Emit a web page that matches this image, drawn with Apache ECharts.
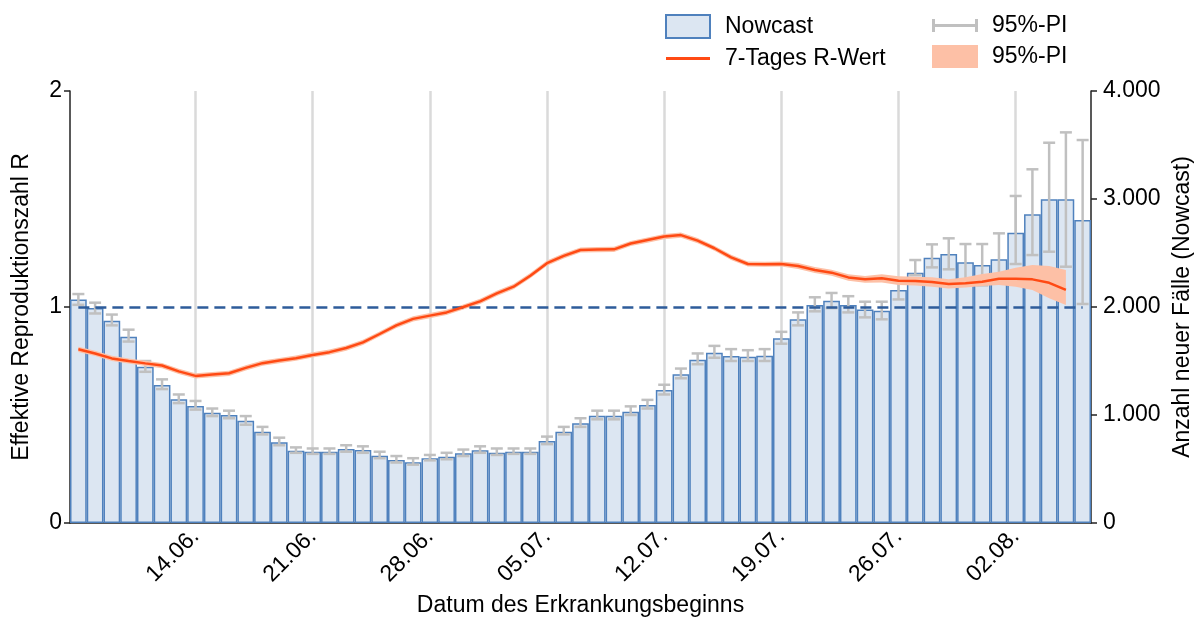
<!DOCTYPE html>
<html>
<head>
<meta charset="utf-8">
<script src="https://cdn.jsdelivr.net/npm/echarts@6/dist/echarts.min.js"></script>
<style>
  html, body { margin: 0; padding: 0; background: #fff; }
  #main { width: 1204px; height: 622px; }
</style>
</head>
<body>
<div id="main"></div>
<script>
// Datum des Erkrankungsbeginns
var days = ['07.06.','08.06.','09.06.','10.06.','11.06.','12.06.','13.06.','14.06.','15.06.','16.06.',
  '17.06.','18.06.','19.06.','20.06.','21.06.','22.06.','23.06.','24.06.','25.06.','26.06.',
  '27.06.','28.06.','29.06.','30.06.','01.07.','02.07.','03.07.','04.07.','05.07.','06.07.',
  '07.07.','08.07.','09.07.','10.07.','11.07.','12.07.','13.07.','14.07.','15.07.','16.07.',
  '17.07.','18.07.','19.07.','20.07.','21.07.','22.07.','23.07.','24.07.','25.07.','26.07.',
  '27.07.','28.07.','29.07.','30.07.','31.07.','01.08.','02.08.','03.08.','04.08.','05.08.',
  '06.08.'];

// Nowcast (Anzahl neuer Fälle)
var nowcast = [2070,1990,1873,1725,1447,1278,1145,1083,1021,1000,
  947,845,747,670,660,660,685,676,623,583,
  562,599,614,645,673,651,660,660,759,845,
  923,994,994,1031,1093,1231,1377,1512,1577,1546,
  1540,1549,1710,1886,2019,2059,2019,1978,1966,2157,
  2318,2457,2491,2414,2389,2441,2688,2858,2997,2997,
  2806];
// 95%-PI Nowcast
var nowcastLow = [2020,1940,1830,1680,1400,1240,1110,1050,990,970,
  910,820,720,650,640,640,660,650,600,560,
  540,580,590,620,650,630,640,640,730,820,
  890,960,960,1000,1060,1190,1340,1470,1530,1500,
  1500,1500,1660,1830,1960,1990,1950,1904,1886,2070,
  2296,2367,2349,2250,2200,2230,2398,2481,2512,2373,
  2028];
var nowcastHigh = [2120,2040,1930,1790,1500,1330,1190,1130,1060,1040,
  990,890,790,700,690,690,720,710,660,620,
  600,630,650,680,710,690,690,690,800,890,
  970,1040,1040,1080,1140,1280,1430,1570,1640,1610,
  1600,1610,1770,1950,2090,2130,2100,2049,2049,2250,
  2435,2580,2636,2583,2583,2682,3028,3275,3521,3617,
  3546];

// 7-Tages R-Wert
var rWert = [0.804,0.785,0.762,0.750,0.739,0.729,0.702,0.681,0.687,0.693,
  0.718,0.740,0.752,0.763,0.778,0.791,0.810,0.836,0.875,0.915,
  0.945,0.960,0.975,1.000,1.026,1.063,1.094,1.145,1.203,1.237,
  1.264,1.266,1.267,1.294,1.310,1.326,1.333,1.307,1.272,1.230,
  1.199,1.198,1.199,1.190,1.171,1.159,1.137,1.128,1.133,1.122,
  1.120,1.116,1.106,1.110,1.117,1.131,1.131,1.128,1.112,1.079];
// 95%-PI R-Wert
var rLow = [0.792,0.773,0.750,0.738,0.727,0.717,0.690,0.669,0.675,0.681,
  0.706,0.728,0.740,0.751,0.766,0.779,0.798,0.824,0.863,0.903,
  0.933,0.948,0.963,0.988,1.014,1.051,1.082,1.133,1.191,1.225,
  1.252,1.254,1.255,1.282,1.298,1.314,1.321,1.295,1.260,1.218,
  1.187,1.186,1.187,1.176,1.157,1.145,1.122,1.112,1.114,1.102,
  1.100,1.094,1.086,1.090,1.097,1.102,1.094,1.079,1.040,1.009];
var rHigh = [0.816,0.797,0.774,0.762,0.751,0.741,0.714,0.693,0.699,0.705,
  0.730,0.752,0.764,0.775,0.790,0.803,0.822,0.848,0.887,0.927,
  0.957,0.972,0.987,1.012,1.038,1.075,1.106,1.157,1.215,1.249,
  1.276,1.278,1.279,1.306,1.322,1.338,1.345,1.319,1.284,1.242,
  1.211,1.210,1.211,1.204,1.185,1.173,1.152,1.144,1.152,1.142,
  1.140,1.138,1.128,1.138,1.153,1.163,1.182,1.194,1.190,1.171];

var rTicks = [0, 1, 2];
var caseTicks = ['0', '1.000', '2.000', '3.000', '4.000'];

// Fehlerbalken-Daten [index, unten, oben]
var errData = [];
for (var i = 0; i < days.length; i++) {
  errData.push([i, nowcastLow[i], nowcastHigh[i]]);
}
// Breite des Bandes für das gestapelte Flächendiagramm
var rBand = [];
for (var j = 0; j < rLow.length; j++) {
  rBand.push(+(rHigh[j] - rLow[j]).toFixed(3));
}

// jede Woche beschriften
function weekly(idx) {
  return idx > 0 && idx % 7 === 0;
}

function renderErrorBar(params, api) {
  var lo = api.coord([api.value(0), api.value(1)]);
  var hi = api.coord([api.value(0), api.value(2)]);
  var w = 6;
  var st = {stroke: '#c0c0c0', lineWidth: 2.5};
  return {
    type: 'group',
    children: [
      {type: 'line', shape: {x1: lo[0], y1: lo[1], x2: hi[0], y2: hi[1]}, style: st},
      {type: 'line', shape: {x1: lo[0] - w, y1: lo[1], x2: lo[0] + w, y2: lo[1]}, style: st},
      {type: 'line', shape: {x1: hi[0] - w, y1: hi[1], x2: hi[0] + w, y2: hi[1]}, style: st}
    ]
  };
}

var font = 'Liberation Sans, Arial, sans-serif';
var myChart = echarts.init(document.getElementById('main'));

var option = {
  animation: false,
  textStyle: {fontFamily: font},
  grid: {left: 70, right: 113, top: 91, bottom: 99, containLabel: false, outerBoundsMode: 'none'},
  legend: [{
    left: 665, top: 14, orient: 'vertical', padding: 0,
    itemWidth: 44, itemHeight: 23, itemGap: 8,
    textStyle: {fontSize: 23, color: '#000', padding: [0, 0, 0, 10]},
    data: [
      {name: 'Nowcast', icon: 'rect'},
      {name: '7-Tages R-Wert', icon: 'path://M0,0h44v3h-44z'}
    ]
  }, {
    left: 932, top: 14, orient: 'vertical', padding: 0,
    itemWidth: 46, itemHeight: 23, itemGap: 8,
    textStyle: {fontSize: 23, color: '#000', padding: [0, 0, 0, 9]},
    formatter: function () { return '95%-PI'; },
    data: [
      {name: 'PI_cases', icon: 'path://M0,0h3v13h-3z M3,5h40v3h-40z M43,0h3v13h-3z'},
      {name: 'PI_R', icon: 'rect', itemStyle: {color: '#fdc0a6'}}
    ]
  }],
  xAxis: [{
    type: 'category',
    data: days,
    boundaryGap: true,
    axisLine: {lineStyle: {color: '#222', width: 1.5}},
    axisTick: {alignWithLabel: true, interval: weekly, length: 9, lineStyle: {color: '#222', width: 1.5}},
    axisLabel: {interval: weekly, rotate: 45, fontSize: 23, color: '#000', margin: 10},
    splitLine: {show: true, interval: weekly, alignWithLabel: true, lineStyle: {color: '#dadada', width: 2.5}},
    name: 'Datum des Erkrankungsbeginns',
    nameLocation: 'middle',
    nameGap: 71,
    nameTextStyle: {fontSize: 23, color: '#000'}
  }, {
    type: 'category',
    data: days,
    position: 'bottom',
    boundaryGap: true,
    axisLine: {show: false},
    axisTick: {alignWithLabel: true, interval: 0, length: 5, lineStyle: {color: '#222', width: 1.5}},
    axisLabel: {show: false},
    splitLine: {show: false}
  }],
  yAxis: [{
    type: 'value',
    position: 'left',
    min: 0, max: 2, interval: 1,
    axisLine: {show: true, lineStyle: {color: '#222', width: 1.5}},
    axisTick: {show: true, length: 6, lineStyle: {color: '#222', width: 1.5}},
    axisLabel: {fontSize: 23, color: '#000', margin: 8,
      formatter: function (v) { return String(rTicks[Math.round(v)]); }},
    splitLine: {show: false},
    name: 'Effektive Reproduktionszahl R',
    nameLocation: 'middle',
    nameRotate: 90,
    nameGap: 37,
    nameTextStyle: {fontSize: 23, color: '#000'}
  }, {
    type: 'value',
    position: 'right',
    min: 0, max: 4000, interval: 1000,
    axisLine: {show: true, lineStyle: {color: '#222', width: 1.5}},
    axisTick: {show: true, length: 6, lineStyle: {color: '#222', width: 1.5}},
    axisLabel: {fontSize: 23, color: '#000', margin: 12,
      formatter: function (v) { return caseTicks[Math.round(v / 1000)]; }},
    splitLine: {show: false},
    name: 'Anzahl neuer Fälle (Nowcast)',
    nameLocation: 'middle',
    nameRotate: 90,
    nameGap: 80,
    nameTextStyle: {fontSize: 23, color: '#000'}
  }],
  series: [{
    name: 'Nowcast',
    type: 'bar',
    xAxisIndex: 0,
    yAxisIndex: 1,
    barWidth: '100%',
    itemStyle: {color: '#dce6f2', borderColor: '#4f81bd', borderWidth: 1.5},
    z: 2,
    data: nowcast
  }, {
    name: 'PI_cases',
    type: 'custom',
    xAxisIndex: 0,
    yAxisIndex: 1,
    renderItem: renderErrorBar,
    itemStyle: {color: '#c0c0c0'},
    encode: {x: 0, y: [1, 2]},
    z: 3,
    data: errData
  }, {
    name: 'PI_R_low',
    type: 'line',
    stack: 'band',
    symbol: 'none',
    silent: true,
    lineStyle: {opacity: 0},
    z: 4,
    data: rLow
  }, {
    name: 'PI_R',
    type: 'line',
    stack: 'band',
    symbol: 'none',
    silent: true,
    lineStyle: {opacity: 0},
    itemStyle: {color: '#fdc0a6'},
    areaStyle: {color: '#fdc0a6', opacity: 1},
    z: 4,
    data: rBand
  }, {
    name: '7-Tages R-Wert',
    type: 'line',
    symbol: 'none',
    smooth: false,
    itemStyle: {color: '#ff4a14'},
    lineStyle: {color: '#ff4a14', width: 2.5},
    z: 5,
    data: rWert,
    markLine: {
      silent: true,
      symbol: ['none', 'none'],
      label: {show: false},
      lineStyle: {color: '#2e5c9a', width: 2.5, type: [11, 6]},
      data: [[{coord: [days[0], 1]}, {coord: [days[60], 1]}]]
    }
  }]
};

myChart.setOption(option);
</script>
</body>
</html>
